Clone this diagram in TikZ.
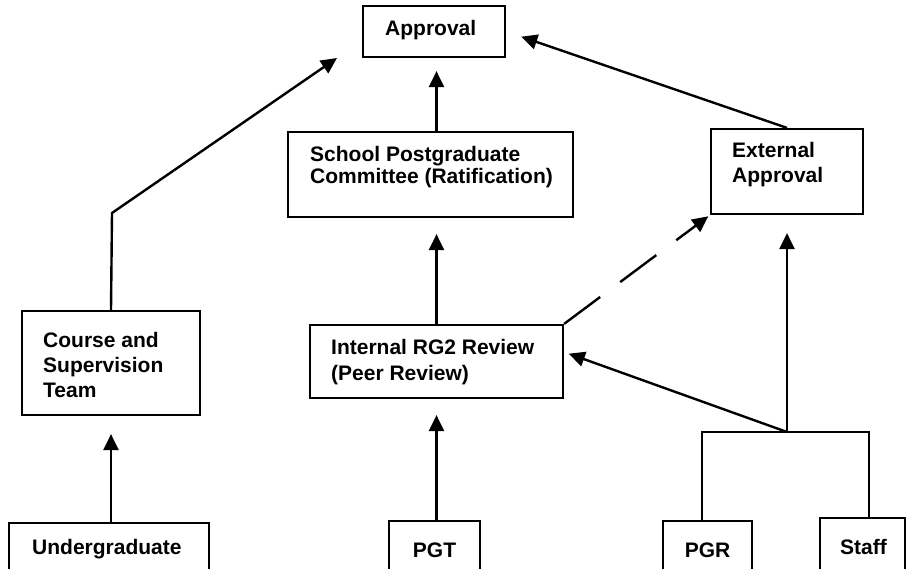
\documentclass[tikz,border=0pt]{standalone}
\usepackage{fontspec}
\setmainfont{Liberation Sans}
\usetikzlibrary{arrows.meta,fit}

\tikzset{
  box/.style={draw, line width=2.2pt, inner sep=0pt, rectangle},
  lbl/.style={anchor=base west, align=left, inner sep=0pt,
              font=\fontsize{21}{25}\selectfont\bfseries},
  clbl/.style={lbl, anchor=base},
  link/.style={line width=2.4pt},
  arr/.style={link, -{Triangle[length=16pt,width=15pt]}},
}

\begin{document}
\begin{tikzpicture}[x=1pt, y=-1pt]
  \clip (0,0) rectangle (907,569);

  % boxes
  \node[box, fit={(363,6) (505,57)}]    (approval)  {};
  \node[box, fit={(288,132) (573,217)}] (school)    {};
  \node[box, fit={(711,129) (863,214)}] (external)  {};
  \node[box, fit={(310,325) (563,398)}] (internal)  {};
  \node[box, fit={(22,311) (200,415)}]  (course)    {};
  \node[box, fit={(9,523) (209,600)}]   (undergrad) {};
  \node[box, fit={(389,521) (480,600)}] (pgt)       {};
  \node[box, fit={(663,521) (752,600)}] (pgr)       {};
  \node[box, fit={(820,518) (905,600)}] (staff)     {};

  % labels (multi-line labels sit on the baseline of their last line)
  \node[lbl] (approvalT) at (385,36) {Approval};
  \node[lbl, font=\fontsize{21}{22}\selectfont\bfseries] (schoolT) at (310,184)
    {School Postgraduate\\Committee (Ratification)};
  \node[lbl] (externalT) at (732,183) {External\\Approval};
  \node[lbl, font=\fontsize{21}{26}\selectfont\bfseries] (internalT) at (331,380)
    {Internal RG2 Review\\(Peer Review)};
  \node[lbl] (courseT) at (43,397) {Course and\\Supervision\\Team};
  \node[lbl] (undergradT) at (32,554) {Undergraduate};
  \node[clbl] (pgtT) at (434.5,557) {PGT};
  \node[clbl] (pgrT) at (707.5,557) {PGR};
  \node[lbl] (staffT) at (840,554) {Staff};

  % helper points
  \coordinate (bend)      at (112,213);
  \coordinate (courseTip) at (337,58);
  \coordinate (junc)      at (787,432);
  \coordinate (bl)        at (702,432);
  \coordinate (br)        at (869,432);
  \coordinate (intTip)    at ([yshift=9.5pt]internal.east);

  % connectors
  \draw[arr, shorten >=18pt] (undergrad.north -| course.south) -- (course.south);
  \draw[arr] (course.north) -- (bend) -- (courseTip);
  \draw[arr, shorten >=16pt] (pgt.north -| internal.south) -- (internal.south);
  \draw[arr, shorten >=16pt] (internal.north) -- (internal.north |- school.south);
  \draw[arr, shorten >=13pt] (school.north -| internal.north) -- (approval.south -| internal.north);
  \draw[arr, shorten >=16pt] (external.north) -- (approval.east);
  \draw[arr, dash pattern=on 45pt off 25pt, shorten >=2pt] (internal.north east) -- (external.south west);

  % PGR / Staff bracket
  \draw[link] (pgr.north -| bl) -- (bl) -- (br) -- (staff.north -| br);
  \draw[arr, shorten >=18pt] (junc) -- (external.south);
  \draw[arr, shorten >=5pt] (junc) -- (intTip);
\end{tikzpicture}
\end{document}
